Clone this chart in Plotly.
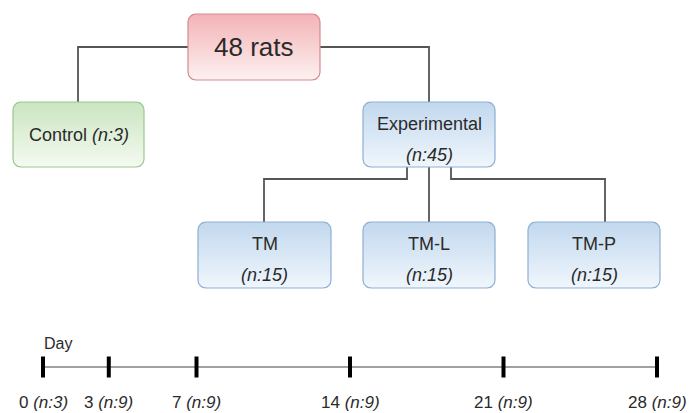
import math
import plotly.graph_objects as go

# ---- data ----
total_rats = 48
groups = ["Control", "Experimental", "TM", "TM-L", "TM-P"]
group_n = [3, 45, 15, 15, 15]
days = [0, 3, 7, 14, 21, 28]
day_n = [3, 9, 9, 9, 9, 9]

# ---- layout geometry (pixels, y downward) ----
W, H = 690, 413
FONT = "Liberation Sans, Arial, sans-serif"
TXT = "#2a2a2a"
LINE = "#555555"

boxes = {
    "root": (188, 320, 14, 80),
    "Control": (13, 144, 102, 167),
    "Experimental": (363, 495, 102, 167),
    "TM": (198, 331, 222, 288),
    "TM-L": (363, 495, 222, 288),
    "TM-P": (528, 660, 222, 288),
}
styles = {
    "red": ("#f3b3b6", "#fdf1f1", "#d58a8d"),
    "green": ("#cbe5c1", "#f4faf1", "#9cc78f"),
    "blue": ("#c2d8ee", "#f0f6fc", "#8eafd3"),
}
box_style = {"root": "red", "Control": "green", "Experimental": "blue",
             "TM": "blue", "TM-L": "blue", "TM-P": "blue"}


def rounded(x0, x1, y0, y1, r=8, n=8):
    xs, ys = [], []
    corners = [(x1 - r, y0 + r, -90, 0), (x1 - r, y1 - r, 0, 90),
               (x0 + r, y1 - r, 90, 180), (x0 + r, y0 + r, 180, 270)]
    for cx, cy, a0, a1 in corners:
        for i in range(n + 1):
            a = math.radians(a0 + (a1 - a0) * i / n)
            xs.append(cx + r * math.cos(a))
            ys.append(cy + r * math.sin(a))
    xs.append(xs[0])
    ys.append(ys[0])
    return xs, ys


fig = go.Figure()

# connectors
connectors = [
    [(188, 47), (78, 47), (78, 102)],
    [(320, 47), (429, 47), (429, 102)],
    [(407, 167), (407, 179), (264, 179), (264, 222)],
    [(429, 167), (429, 222)],
    [(451, 167), (451, 179), (605, 179), (605, 222)],
]
for pts in connectors:
    fig.add_trace(go.Scatter(x=[p[0] for p in pts], y=[p[1] for p in pts],
                             mode="lines", line=dict(color=LINE, width=1.8),
                             hoverinfo="skip", showlegend=False))

# boxes
for key, (x0, x1, y0, y1) in boxes.items():
    top, bot, border = styles[box_style[key]]
    xs, ys = rounded(x0, x1, y0, y1)
    fig.add_trace(go.Scatter(
        x=xs, y=ys, mode="lines", fill="toself",
        fillgradient=dict(type="vertical", start=y0, stop=y1,
                          colorscale=[[0, top], [1, bot]]),
        line=dict(color=border, width=1.2),
        hoverinfo="skip", showlegend=False))

ann = []


def label(x, y, text, size=18, xref="x"):
    ann.append(dict(x=x, y=y, xref=xref, yref="y", text=text, showarrow=False,
                    font=dict(family=FONT, size=size, color=TXT),
                    xanchor="center", yanchor="middle"))


# box texts
rx0, rx1, ry0, ry1 = boxes["root"]
label((rx0 + rx1) / 2, (ry0 + ry1) / 2, f"{total_rats} rats", size=26)
for g, n in zip(groups, group_n):
    x0, x1, y0, y1 = boxes[g]
    cx = (x0 + x1) / 2
    if g == "Control":
        label(cx, (y0 + y1) / 2, f"{g} <i>(n:{n})</i>")
    else:
        label(cx, y0 + 22, g)
        label(cx, y0 + 53, f"<i>(n:{n})</i>")

# timeline
TL_Y = 367
fig.add_trace(go.Scatter(x=[days[0], days[-1]], y=[TL_Y, TL_Y], xaxis="x2",
                         mode="lines", line=dict(color="#444444", width=1.2),
                         cliponaxis=False,
                         hoverinfo="skip", showlegend=False))
fig.add_trace(go.Scatter(x=days, y=[TL_Y] * len(days), xaxis="x2",
                         mode="markers", cliponaxis=False,
                         marker=dict(symbol="line-ns", size=15,
                                     line=dict(color="#000000", width=4)),
                         hoverinfo="skip", showlegend=False))
for d, n in zip(days, day_n):
    label(d, 402, f"{d} <i>(n:{n})</i>", size=17, xref="x2")
ann.append(dict(x=42, y=343, xref="x", yref="y", text="Day", showarrow=False,
                font=dict(family=FONT, size=16, color=TXT),
                xanchor="left", yanchor="middle"))

fig.update_layout(
    width=W, height=H, margin=dict(l=0, r=0, t=0, b=0),
    paper_bgcolor="white", plot_bgcolor="rgba(0,0,0,0)",
    xaxis=dict(range=[0, W], domain=[0, 1], visible=False, fixedrange=True),
    xaxis2=dict(range=[days[0], days[-1]], domain=[43 / W, 657 / W],
                anchor="y", visible=False, fixedrange=True),
    yaxis=dict(range=[H, 0], domain=[0, 1], visible=False, fixedrange=True),
    annotations=ann,
    showlegend=False,
)

fig.write_html(
    "out.html",
    config={"displayModeBar": False, "staticPlot": True},
    post_script="document.body.style.margin='0';document.body.style.overflow='hidden';",
)
